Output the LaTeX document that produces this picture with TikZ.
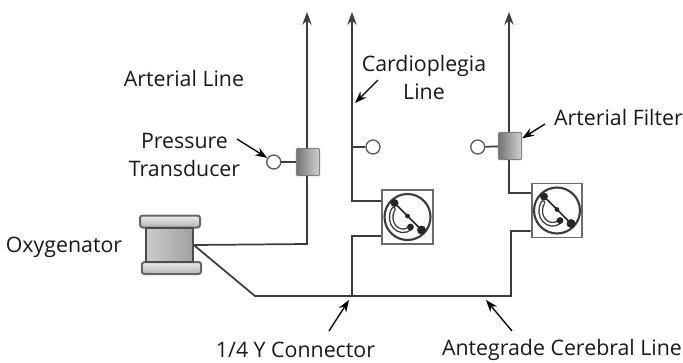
\documentclass[tikz,border=0pt]{standalone}
\usepackage{fontspec}
\setmainfont{Open Sans}
\usetikzlibrary{arrows.meta}
\definecolor{linegray}{HTML}{3C3C3C}
\tikzset{
	pumpface/.pic = {
		\draw[line width=1.3pt, black!85] (-13,-14) -- (14,13);
		\fill[black!85] (-13,-14) circle (4);
		\fill[black!85] (14,13) circle (4.5);
		\fill[black!85] (0,-1) circle (2.4);
		\draw[line width=3.6pt, linegray, line cap=round] (-14,-8) .. controls (-22,6) and (-8,20) .. (3,11);
		\draw[line width=1.5pt, white, line cap=round] (-14,-8) .. controls (-22,6) and (-8,20) .. (3,11);
		\fill[black!85] (3,10) circle (3.4);
	}
}
\begin{document}
\begin{tikzpicture}[x=0.75pt, y=-0.75pt, node distance=25.5pt, font=\fontsize{16}{19}\selectfont,
	flow/.style = {line width=1.3pt, draw=linegray},
	tip/.style = {flow, -{Stealth[length=9.5pt, width=7pt]}},
	callout/.style = {line width=1pt, black, -{Stealth[length=9pt, width=6.5pt]}},
	port/.style = {draw=linegray!85, line width=1pt, circle, fill=white, inner sep=0, minimum size=10.5pt},
	filter/.style = {draw=gray, line width=0.8pt, inner sep=0, minimum width=17.5pt, minimum height=20.5pt, rounded corners=1pt, left color=gray!110, right color=gray!35},
	pumpbox/.style = {draw=gray!85!black, line width=1.4pt, fill=white, inner sep=0, minimum width=38pt, minimum height=40.5pt},
	rotor/.style = {draw=linegray, line width=1.6pt, circle, inner sep=0, minimum size=34.5pt},
	flange/.style = {draw=black!60, line width=1.5pt, rounded corners=2pt, inner sep=0, minimum height=9pt, top color=gray!15, bottom color=gray!60},
	label/.style = {align=center, inner sep=0, black!90}]
	\useasboundingbox (0,0) rectangle (683,362);

	\node[flange, minimum width=45pt] (oxytop) at (170,221.5) {};
	\node[flange, minimum width=44.5pt] (oxybot) at (171.5,268) {};
	\node[draw=black!70, line width=1.4pt, inner sep=0, minimum width=35pt, minimum height=26pt, left color=gray!40, right color=gray!75] (oxy) at (169.5,245) {};

	\node[filter] (filter1) at (308,162) {};
	\node[port] (port1) [left of=filter1, xshift=-0.2pt] at (308,162) {};
	\node[filter] (filter2) at (510,146) {};
	\node[port] (port3) [left of=filter2, xshift=1.3pt] at (510,147) {};
	\node[port] (port2) at (373,147) {};

	\node[pumpbox] (pump1) at (407.5,217) {};
	\node[rotor] (rotor1) at (pump1) {};
	\pic at (rotor1) {pumpface};
	\node[pumpbox] (pump2) at (557,210.5) {};
	\node[rotor] (rotor2) at (pump2) {};
	\pic at (rotor2) {pumpface};

	\coordinate (top1) at (307,12);
	\coordinate (top2) at (352,12);
	\coordinate (top3) at (509,12);
	\coordinate (bend1) at (307,244);
	\coordinate (bend2) at (255,296);
	\coordinate (y) at (352,296);
	\coordinate (bend3) at (511,296);
	\coordinate (tee) at (352,147);

	\draw[flow] (oxy.east) -- (bend1) -- (307,176);
	\draw[tip] (307,148) -- (top1);
	\draw[flow] (port1) -- (filter1);
	\draw[flow] (oxy.east) -- (bend2) -- (bend3) |- (pump2.west |- 0,231);
	\draw[tip] (pump1.west |- 0,201) -| (top2);
	\draw[flow] (y) |- (pump1.west |- 0,236);
	\draw[flow] (tee) -- (port2);
	\draw[flow] (pump2.west |- 0,193) -| (509,160);
	\draw[tip] (509,132) -- (top3);
	\draw[flow] (port3) -- (filter2);

	\node[label] (arterial) at (184,78) {Arterial Line};
	\node[label] (pressure) at (184.5,155) {Pressure\\[2pt]Transducer};
	\node[label] (oxylabel) at (64,247) {Oxygenator};
	\node[label] (cardio) at (424,77) {Cardioplegia\\[2pt]Line};
	\node[label] (afilter) at (618.5,117) {Arterial Filter};
	\node[label] (connector) at (295.5,350) {1/4 Y Connector};
	\node[label] (antegrade) at (562,350) {Antegrade Cerebral Line};

	\coordinate (c1) at (237,139);
	\coordinate (c2) at (378,80);
	\coordinate (c3) at (545,124);
	\coordinate (c4) at (329,331);
	\coordinate (c5) at (512,331);
	\draw[callout] (c1) -- (port1);
	\draw[callout] (c2) -- (355,103);
	\draw[callout] (c3) -- (filter2);
	\draw[callout] (c4) -- (349,300);
	\draw[callout] (c5) -- (486,300);
\end{tikzpicture}
\end{document}
